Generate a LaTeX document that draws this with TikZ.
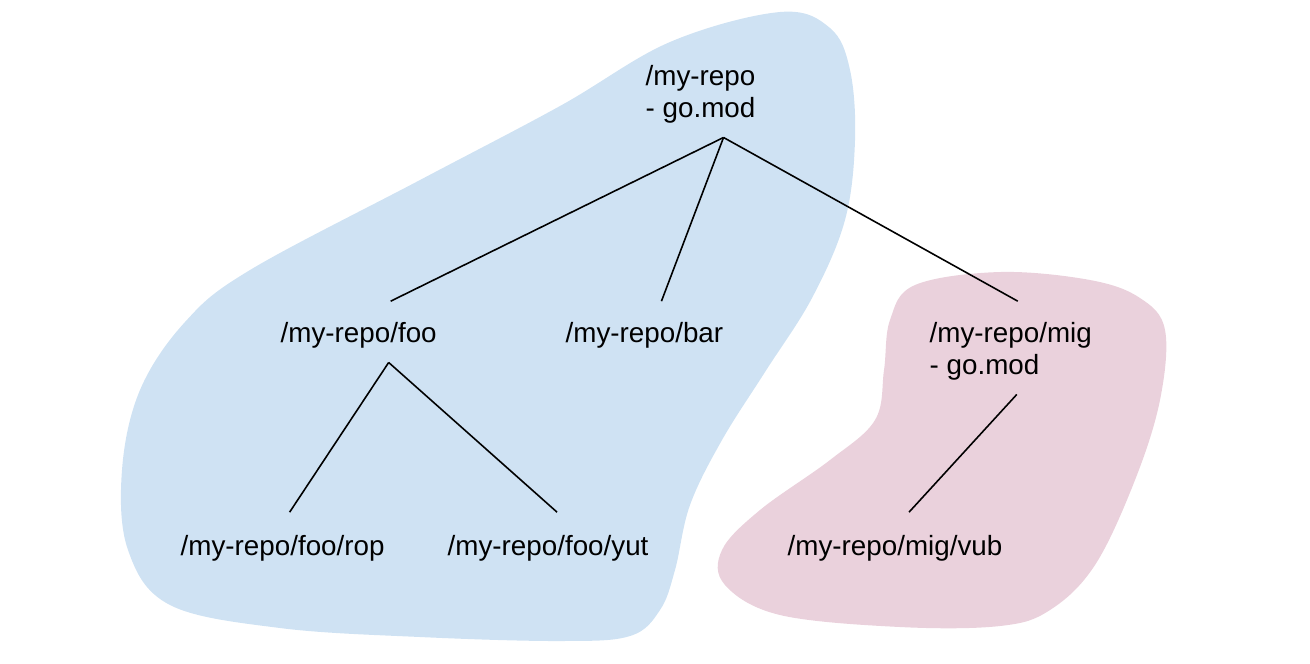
\documentclass[tikz,border=0pt]{standalone}
\usepackage{fontspec}
\setmainfont{Liberation Sans}
\usepackage{tikz}
\usetikzlibrary{calc}
\definecolor{mainblue}{RGB}{207,226,243}
\definecolor{migpink}{RGB}{234,209,220}
\tikzset{
  dir/.style={anchor=base west,inner sep=0pt,align=left,
              font=\fontsize{7.9pt}{9.1pt}\selectfont},
  link/.style={draw=black,line width=0.45pt},
  blob/.style={draw=none},
}

\begin{document}
\begin{tikzpicture}[x=0.01cm,y=-0.01cm]
  \useasboundingbox (0,0) rectangle (1310,663);

  % module regions
  \fill[blob,mainblue] plot[smooth cycle,tension=0.6] coordinates {
    (780,12) (830,28) (850,70) (855,140) (845,220) (812,298) (765,372)
    (722,440) (690,505) (675,570) (660,610) (630,636) (560,641) (420,637)
    (280,628) (170,605) (128,550) (122,470) (140,390) (185,322) (250,270)
    (420,180) (560,106) (670,42)};
  \fill[blob,migpink] plot[smooth cycle,tension=0.6] coordinates {
    (1000,272) (1090,280) (1140,298) (1165,330) (1160,400) (1135,480)
    (1095,565) (1050,610) (1000,626) (900,627) (780,615) (725,585)
    (722,550) (760,510) (830,460) (875,420) (884,370) (890,320) (915,285)};

  % base of the last line
  \node[dir] (root) at (645,117) {/my-repo\\- go.mod};
  \node[dir] (foo)  at (280,342) {/my-repo/foo};
  \node[dir] (bar)  at (565,342) {/my-repo/bar};
  \node[dir] (mig)  at (929,374) {/my-repo/mig\\- go.mod};
  \node[dir] (rop)  at (180,555) {/my-repo/foo/rop};
  \node[dir] (yut)  at (447,555) {/my-repo/foo/yut};
  \node[dir] (vub)  at (787,555) {/my-repo/mig/vub};

  \coordinate (rootdn) at ($(root.south)+(23,14)$);
  \coordinate (foodn)  at ($(foo.south)+(30,14)$);
  \coordinate (migdn)  at ($(mig.south)+(6,14)$);

  \draw[link] (rootdn) -- ($(foo.north)+(32,-20)$);
  \draw[link] (rootdn) -- ($(bar.north)+(17,-20)$);
  \draw[link] (rootdn) -- ($(mig.north)+(7,-20)$);
  \draw[link] (foodn) -- ($(rop.north)+(7,-22)$);
  \draw[link] (foodn) -- ($(yut.north)+(9,-22)$);
  \draw[link] (migdn) -- ($(vub.north)+(14,-22)$);
\end{tikzpicture}
\end{document}
